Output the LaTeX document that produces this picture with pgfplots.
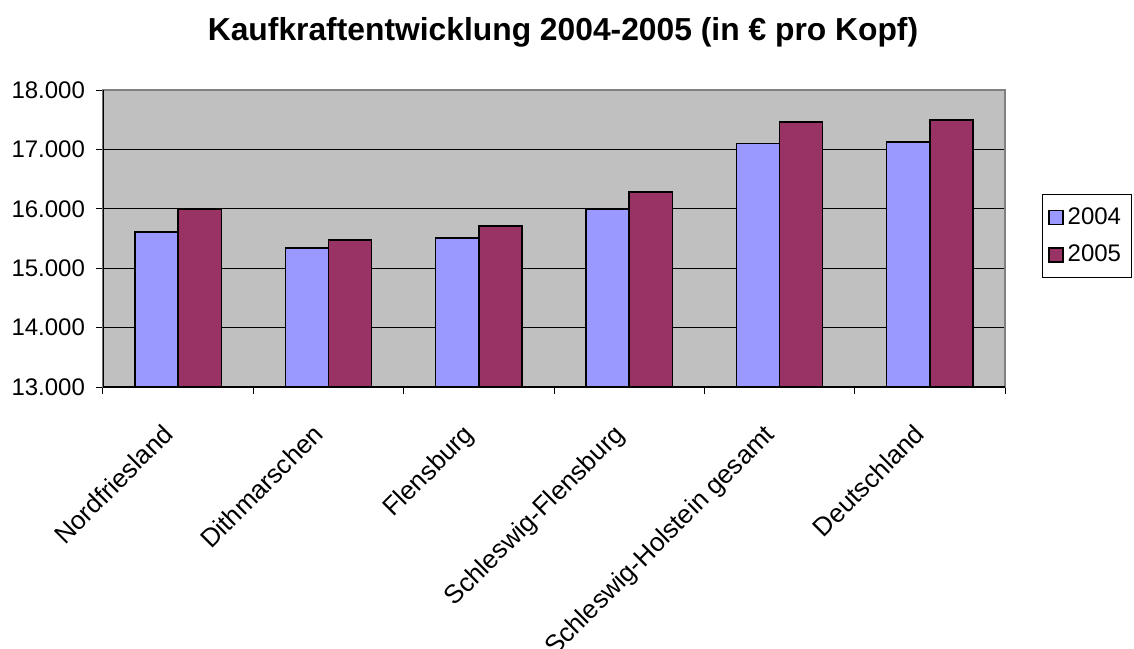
\documentclass[border=0pt]{standalone}
\usepackage{fontspec}
\setmainfont{Liberation Sans}
\usepackage{pgfplots}
\pgfplotsset{compat=1.18}
\definecolor{bar04}{HTML}{9999FF}
\definecolor{bar05}{HTML}{993366}
\definecolor{plotbg}{HTML}{C0C0C0}

\begin{document}
\begin{tikzpicture}
\begin{axis}[
  scale only axis, width=451pt, height=148.5pt,
  xmin=-0.5, xmax=5.5, ymin=13000, ymax=18000,
  ybar, bar width=0.287,
  axis background/.style={fill=plotbg},
  axis line style={draw=gray, line width=0.6pt},
  xtick={0,...,5},
  xticklabels={Nordfriesland,Dithmarschen,Flensburg,Schleswig-Flensburg,Schleswig-Holstein gesamt,Deutschland},
  minor xtick={-0.5,0.5,1.5,2.5,3.5,4.5,5.5},
  major x tick style={draw=none},
  minor x tick style={black, line width=0.5pt},
  ytick={13000,14000,...,18000},
  scaled y ticks=false,
  y tick style={black, line width=0.5pt},
  tick align=outside, major tick length=3.5pt, minor tick length=3.5pt,
  xtick pos=bottom, ytick pos=left,
  ymajorgrids, major grid style={black, line width=0.5pt},
  tick label style={font=\fontsize{12}{14}\selectfont},
  x tick label style={rotate=45, anchor=north east, inner sep=2pt, xshift=-14pt, yshift=-2pt,
    font=\fontsize{13}{15}\selectfont},
  y tick label style={xshift=-2pt, /pgf/number format/fixed, /pgf/number format/1000 sep={.},
    /pgf/number format/assume math mode=true},
  title={Kaufkraftentwicklung 2004-2005 (in € pro Kopf)},
  title style={at={(0.51,1)}, anchor=center, yshift=23pt, font=\bfseries\fontsize{15.9}{17}\selectfont},
  legend style={at={(rel axis cs:1.041,0.508)}, anchor=west, draw=black, fill=white,
    font=\fontsize{12}{14}\selectfont, row sep=5pt, inner xsep=3pt, inner ysep=4.5pt,
    line width=0.5pt},
  legend cell align=left,
  legend image code/.code={\draw[#1, line width=0.6pt] (0pt,-3.5pt) rectangle (7pt,3.5pt);},
]
\addplot[fill=bar04, draw=black, line width=0.8pt, bar shift=-0.1435] coordinates {
  (0,15607) (1,15337) (2,15511) (3,15990) (4,17098) (5,17126)};
\addplot[fill=bar05, draw=black, line width=0.8pt, bar shift=0.1435] coordinates {
  (0,15990) (1,15478) (2,15707) (3,16285) (4,17462) (5,17490)};
\legend{2004,2005}
\draw[black, line width=0.6pt] (rel axis cs:0,1) -- (rel axis cs:0,0) -- (rel axis cs:1,0);
\end{axis}
\pgfresetboundingbox
\useasboundingbox (-51.5pt,-130.5pt) rectangle (515.5pt,193.5pt);
\end{tikzpicture}
\end{document}
